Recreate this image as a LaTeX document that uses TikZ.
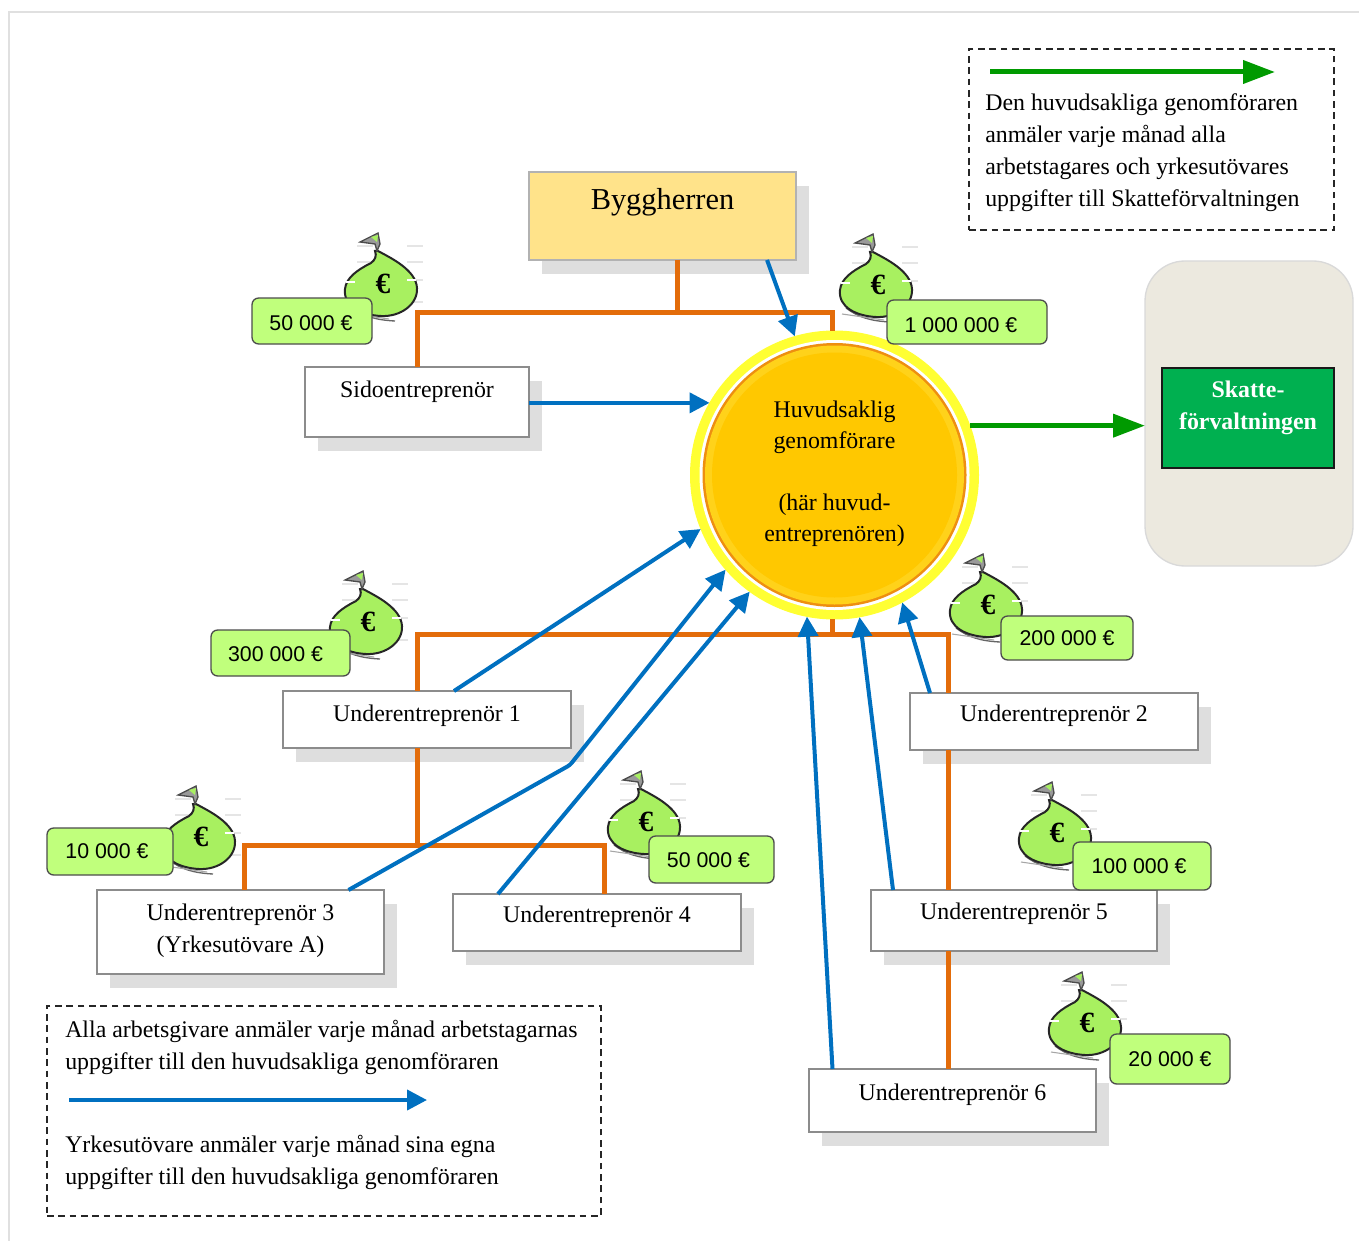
\documentclass[tikz,border=0pt]{standalone}
\usepackage{xcolor}
\usepackage{fontspec}
\setmainfont{Liberation Serif}
\setsansfont{Liberation Sans}
\usetikzlibrary{arrows.meta,shadows}

\definecolor{linkorange}{HTML}{E36C0A}
\definecolor{linkblue}{HTML}{0070C0}
\definecolor{linkgreen}{HTML}{009A00}
\definecolor{ringyellow}{HTML}{FFFF33}
\definecolor{ringorange}{HTML}{EE8F10}
\definecolor{ringlight}{HTML}{FFD21A}
\definecolor{coregold}{HTML}{FFC800}
\definecolor{ownergold}{HTML}{FFE38A}
\definecolor{sumgreen}{HTML}{C0FF7C}
\definecolor{baggreen}{HTML}{A8F060}
\definecolor{panelgrey}{HTML}{ECE9DF}
\definecolor{taxgreen}{HTML}{00B050}

\tikzset{
  sz/.style 2 args={minimum width=#1*0.75pt,minimum height=#2*0.75pt},
  actorbox/.style={draw=black!45,line width=1pt,fill=white,inner sep=0pt,outer sep=0pt,anchor=north west,align=center,
    font=\fontsize{17.9}{24}\selectfont,
    drop shadow={shadow xshift=9.75pt,shadow yshift=-10.5pt,fill=black!13,opacity=1}},
  sumbox/.style={draw=black!70,line width=1pt,fill=sumgreen,rounded corners=5pt,inner sep=0pt,outer sep=0pt,anchor=north west,
    font=\sffamily\fontsize{16}{18}\selectfont},
  legendbox/.style={draw=black!85,dash pattern=on 5pt off 3.5pt,line width=1.2pt,inner sep=0pt,outer sep=0pt,anchor=north west},
  legendtext/.style={inner sep=0pt,anchor=west,align=left,font=\fontsize{17.9}{24}\selectfont},
  orangeline/.style={linkorange,line width=3.75pt},
  blueline/.style={linkblue,line width=3pt,-{Triangle[length=15pt,width=15pt]}},
  greenline/.style={linkgreen,line width=3.75pt,-{Triangle[length=24pt,width=17pt]}},
  moneybag/.pic={
    \begin{scope}[yscale=-1]
    \foreach \dashy in {-38,-22,-4,18}{
      \draw[black!10,line width=0.8pt] (-26,\dashy) -- (-10,\dashy) (24,\dashy) -- (40,\dashy);
    }
    \draw[black!60,line width=1pt] (-32,23) .. controls (-20,32) and (-8,36) .. (12,37);
    \draw[black!35,line width=0.8pt] (-36,29) -- (6,35);
    \filldraw[fill=baggreen,draw=black!85,line width=1.5pt] (-5,-33) .. controls (8,-26) and (33,-14) .. (34,4)
      .. controls (35,20) and (18,33) .. (-2,32) .. controls (-22,31) and (-40,22) .. (-38,5)
      .. controls (-37,-6) and (-26,-14) .. (-12,-21) .. controls (-8,-24) and (-6,-28) .. (-8,-33) -- cycle;
    \filldraw[fill=black!40,draw=black!70,line width=1pt] (-6,-33) -- (-8,-40) -- (-23,-42) -- (-5,-51) -- (-3,-40) -- cycle;
    \fill[baggreen] (-12,-47) -- (-5,-49) -- (-6,-42) -- cycle;
    \draw[white,line width=1pt] (-37,-2) -- (-28,-2) (24,-4) -- (33,-4);
    \end{scope}
    \node[inner sep=0pt,font=\bfseries\fontsize{22}{22}\selectfont] (-euro) at (0,0) {€};
  }
}

\begin{document}
\begin{tikzpicture}[x=0.75pt,y=0.75pt,yscale=-1,xscale=1]
\useasboundingbox (0,0) rectangle (1359,1241);

%Page edge
\draw [black!12,line width=1.2pt] (1359,12) -- (9,12) -- (9,1241) ;

%Ring of the main contractor
\coordinate (huvudc) at (834.5,475) ;
\foreach \rad/\col in {144.5/ringyellow,135/white,132/ringorange,129.5/ringlight,122.5/coregold}{
  \fill [\col] (huvudc) circle [radius=\rad] ;
}

% Text Node
\draw (huvudc) node [circle,sz={288}{288},inner sep=0pt,align=center,text depth=5pt,font=\fontsize{17.9}{23.25}\selectfont] (huvud) {Huvudsaklig\\genomförare\\[23.25pt](här huvud-\\entreprenören)};
% Text Node
\draw (529,172) node [actorbox,sz={267}{88},draw=black!30,fill=ownergold,text depth=25.5pt,font=\fontsize{22.8}{24}\selectfont] (bygg) {Byggherren};
% Text Node
\draw (305,367) node [actorbox,sz={224}{70},text depth=19pt] (sido) {Sidoentreprenör};
% Text Node
\draw (283,691) node [actorbox,sz={288}{57},text depth=9pt] (ue1) {Underentreprenör 1};
% Text Node
\draw (910,693) node [actorbox,sz={288}{57},text depth=12pt] (ue2) {Underentreprenör 2};
% Text Node
\draw (97,890) node [actorbox,sz={287}{84},text depth=6pt] (ue3) {Underentreprenör 3\\(Yrkesutövare A)};
% Text Node
\draw (453,894) node [actorbox,sz={288}{57},text depth=12pt] (ue4) {Underentreprenör 4};
% Text Node
\draw (871,890) node [actorbox,sz={286}{61},text depth=14pt] (ue5) {Underentreprenör 5};
% Text Node
\draw (809,1069) node [actorbox,sz={287}{63},text depth=13pt] (ue6) {Underentreprenör 6};

%Tax authority
\draw (1145,261) node [anchor=north west,sz={208}{305},inner sep=0pt,outer sep=0pt,draw=black!15,line width=1pt,fill=panelgrey,rounded corners=30pt] (skattebg) {};
% Text Node
\draw (1162,368) node [anchor=north west,sz={172}{100},inner sep=0pt,outer sep=0pt,draw=black!90,line width=1.2pt,fill=taxgreen,align=center,text=white,text depth=19pt,font=\bfseries\fontsize{17.9}{24}\selectfont] (skatte) {Skatte-\\förvaltningen};

%Junctions
\coordinate (top) at (677,312) ;
\coordinate (topl) at (417,312) ;
\coordinate (topr) at (832,312) ;
\coordinate (mid) at (832,634) ;
\coordinate (midl) at (417,634) ;
\coordinate (midr) at (948,634) ;
\coordinate (low) at (417,845) ;
\coordinate (lowl) at (244,845) ;
\coordinate (lowr) at (604,845) ;

%Straight Lines
\draw [orangeline] (bygg.south -| top) -- (top) ;
\draw [orangeline] (sido.north -| topl) -- (topl) -- (topr) -- (huvud.north -| topr) ;
\draw [orangeline] (huvud.south -| mid) -- (mid) ;
\draw [orangeline] (ue1.north -| midl) -- (midl) -- (midr) -- (ue2.north -| midr) ;
\draw [orangeline] (ue1.south -| low) -- (low) ;
\draw [orangeline] (ue3.north -| lowl) -- (lowl) -- (lowr) -- (ue4.north -| lowr) ;
\draw [orangeline] (ue2.south -| midr) -- (ue5.north -| midr) ;
\draw [orangeline] (ue5.south -| midr) -- (ue6.north -| midr) ;

%Arrows to the main contractor
\coordinate (ue3bend) at (570,765) ;
\draw [blueline] ([xshift=78.4pt]bygg.south) -- (huvud.106) ;
\draw [blueline] (sido.east |- huvud.150) -- (huvud.150) ;
\draw [blueline] ([xshift=20.25pt]ue1.north) -- (huvud.202) ;
\draw [blueline,rounded corners=2pt] ([xshift=81pt]ue3.north) -- (ue3bend) -- (huvud.221) ;
\draw [blueline] ([xshift=-74.25pt]ue4.north) -- (huvud.234) ;
\draw [blueline] ([xshift=-90pt]ue6.north) -- (huvud.259) ;
\draw [blueline] ([xshift=-90.75pt]ue5.north) -- (huvud.280) ;
\draw [blueline] ([xshift=-93pt]ue2.north) -- (huvud.298) ;
\draw [greenline] (huvud.20) -- (huvud.20 -| skattebg.west) ;

%Money bags
\draw (383,284) pic (bagsido) {moneybag} ;
\draw (878,285) pic (baghuvud) {moneybag} ;
\draw (368,622) pic (bagone) {moneybag} ;
\draw (988,605) pic (bagtwo) {moneybag} ;
\draw (201,837) pic (bagthree) {moneybag} ;
\draw (646,822) pic (bagfour) {moneybag} ;
\draw (1057,833) pic (bagfive) {moneybag} ;
\draw (1087,1023) pic (bagsix) {moneybag} ;

% Text Node
\draw (252,298) node [sumbox,sz={120}{46},text height=14.2pt] (sumsido) {50 000 €\hspace*{1.5pt}};
% Text Node
\draw (887,300) node [sumbox,sz={160}{44},text height=15.7pt] (sumhuvud) {1 000 000 €\hspace*{9pt}};
% Text Node
\draw (211,630) node [sumbox,sz={139}{46},text height=12.7pt] (sumone) {300 000 €\hspace*{7.5pt}};
% Text Node
\draw (1001,616) node [sumbox,sz={132}{44}] (sumtwo) {200 000 €};
% Text Node
\draw (47,828) node [sumbox,sz={126}{47}] (sumthree) {10 000 €\hspace*{4.5pt}};
% Text Node
\draw (649,836) node [sumbox,sz={125}{47},text height=12.7pt] (sumfour) {50 000 €\hspace*{4.5pt}};
% Text Node
\draw (1073,842) node [sumbox,sz={138}{48}] (sumfive) {100 000 €\hspace*{4.5pt}};
% Text Node
\draw (1110,1034) node [sumbox,sz={120}{50}] (sumsix) {20 000 €};

%Legends
\draw (969,49) node [legendbox,sz={365}{181}] (legendtax) {};
\coordinate (legendtaxa) at (990,72) ;
\coordinate (legendtaxb) at (1275,72) ;
\draw [greenline] (legendtaxa) -- (legendtaxb) ;
% Text Node
\draw (985,152.5) node [legendtext] (legendtaxtext) {Den huvudsakliga genomföraren\\anmäler varje månad alla\\arbetstagares och yrkesutövares\\uppgifter till Skatteförvaltningen};

\draw (47,1006) node [legendbox,sz={554}{210}] (legendwork) {};
\coordinate (legendworka) at (69,1100) ;
\coordinate (legendworkb) at (427,1100) ;
\draw [blueline] (legendworka) -- (legendworkb) ;
% Text Node
\draw (65,1047) node [legendtext] (legendworktext) {Alla arbetsgivare anmäler varje månad arbetstagarnas\\uppgifter till den huvudsakliga genomföraren};
% Text Node
\draw (65,1162) node [legendtext] (legendselftext) {Yrkesutövare anmäler varje månad sina egna\\uppgifter till den huvudsakliga genomföraren};

\end{tikzpicture}
\end{document}
